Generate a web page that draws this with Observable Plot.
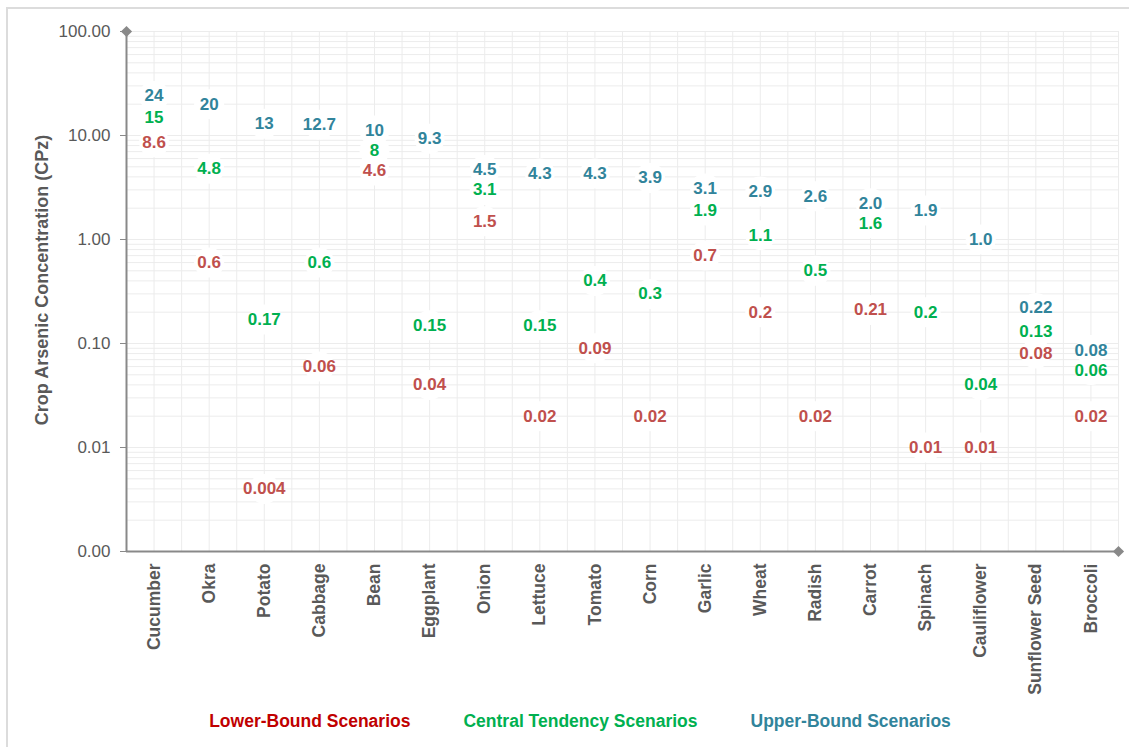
<!DOCTYPE html>
<html>
<head>
<meta charset="utf-8">
<script src="https://cdn.jsdelivr.net/npm/d3@7"></script>
<script src="https://cdn.jsdelivr.net/npm/@observablehq/plot@0.6"></script>
<style>
  html, body { margin: 0; padding: 0; background: #ffffff; }
  body { font-family: "Liberation Sans", Arial, Helvetica, sans-serif; }
  #frame {
    position: relative;
    width: 1129px;
    height: 747px;
    overflow: hidden;
  }
  #frame::before {
    content: "";
    position: absolute;
    left: 6px; top: 7px; right: -4px; bottom: -4px;
    border-left: 2px solid #dcdcdc;
    border-top: 2px solid #dcdcdc;
    pointer-events: none;
  }
  #chart svg { display: block; }
  #ytitle {
    position: absolute;
    left: 42px;
    top: 280px;
    transform: translate(-50%, -50%) rotate(-90deg);
    white-space: nowrap;
    font-size: 18px;
    font-weight: bold;
    color: #595959;
  }
  #legend {
    display: flex;
    justify-content: center;
    gap: 53px;
    padding-left: 31px;
    height: 32px;
    line-height: 32px;
    font-size: 17.5px;
    font-weight: bold;
  }
</style>
</head>
<body>
<div id="frame">
  <div id="chart"></div>
  <div id="ytitle">Crop Arsenic Concentration (CPz)</div>
  <div id="legend"></div>
</div>
<script>
// Crops, in plotting order along the x axis
const categories = ["Cucumber", "Okra", "Potato", "Cabbage", "Bean", "Eggplant", "Onion", "Lettuce", "Tomato",
  "Corn", "Garlic", "Wheat", "Radish", "Carrot", "Spinach", "Cauliflower", "Sunflower Seed", "Broccoli"];

// Crop arsenic concentration (CPz) per scenario, kept as printed
const lowerBound = ["8.6", "0.6", "0.004", "0.06", "4.6", "0.04", "1.5", "0.02", "0.09",
  "0.02", "0.7", "0.2", "0.02", "0.21", "0.01", "0.01", "0.08", "0.02"];
const centralTendency = ["15", "4.8", "0.17", "0.6", "8", "0.15", "3.1", "0.15", "0.4",
  "0.3", "1.9", "1.1", "0.5", "1.6", "0.2", "0.04", "0.13", "0.06"];
const upperBound = ["24", "20", "13", "12.7", "10", "9.3", "4.5", "4.3", "4.3",
  "3.9", "3.1", "2.9", "2.6", "2.0", "1.9", "1.0", "0.22", "0.08"];

const seriesNames = ["Lower-Bound Scenarios", "Central Tendency Scenarios", "Upper-Bound Scenarios"];
const labelColors = ["#C0504D", "#00B050", "#31849B"];
const legendColors = ["#C00000", "#00B050", "#31849B"];

// y axis decades
const yTicks = [0.001, 0.01, 0.1, 1, 10, 100];

const W = 1129, H = 705, MT = 31, MB = 154, ML = 126, MR = 11;
const yOptions = {type: "log", domain: [yTicks[0], yTicks[yTicks.length - 1]]};

const seriesValues = [lowerBound, centralTendency, upperBound];
const rows = [];
seriesValues.forEach((vals, s) => {
  vals.forEach((label, i) => {
    rows.push({i, crop: categories[i], series: seriesNames[s], label, value: +label, color: labelColors[s]});
  });
});

// Keep the three labels of a crop from colliding: spread clusters that sit
// closer than minGap pixels, then map the spread positions back through the scale.
const yScale = Plot.scale({y: {...yOptions, range: [H - MB, MT]}});
const minGap = 20;
d3.group(rows, d => d.i).forEach(group => {
  const items = group.map(d => ({d, py: yScale.apply(d.value)})).sort((a, b) => a.py - b.py);
  let clusters = items.map(it => ({members: [it], center: it.py}));
  let merged = true;
  while (merged) {
    merged = false;
    for (let k = 0; k < clusters.length - 1; k++) {
      const a = clusters[k], b = clusters[k + 1];
      const aBottom = a.center + (a.members.length - 1) * minGap / 2;
      const bTop = b.center - (b.members.length - 1) * minGap / 2;
      if (bTop - aBottom < minGap) {
        const members = a.members.concat(b.members);
        const center = d3.mean(members, m => m.py);
        clusters.splice(k, 2, {members, center});
        merged = true;
        break;
      }
    }
  }
  clusters.forEach(c => {
    c.members.forEach((m, j) => {
      const py = c.center + (j - (c.members.length - 1) / 2) * minGap;
      m.d.labelY = yScale.invert(py);
    });
  });
});

// log minor gridlines (2..9 within each decade)
const minor = [];
yTicks.slice(0, -1).forEach(d => { for (let k = 2; k <= 9; k++) minor.push(d * k); });
// vertical gridlines at each category centre and boundary
const vGrid = d3.range(0, 2 * categories.length + 1).map(k => -0.5 + k / 2);

const axisGray = "#898989";
const textGray = "#595959";
const gridGray = "#ececec";

const chart = Plot.plot({
  width: W,
  height: H,
  marginTop: MT,
  marginBottom: MB,
  marginLeft: ML,
  marginRight: MR,
  style: {fontFamily: "'Liberation Sans', Arial, Helvetica, sans-serif", background: "transparent"},
  x: {type: "linear", domain: [-0.5, categories.length - 0.5], axis: null},
  y: {...yOptions, axis: null},
  marks: [
    Plot.ruleY(minor, {stroke: gridGray, strokeWidth: 1}),
    Plot.ruleY(yTicks, {stroke: gridGray, strokeWidth: 1}),
    Plot.ruleX(vGrid, {stroke: gridGray, strokeWidth: 1}),
    // white patches behind the value labels
    Plot.dot(rows, {x: "i", y: "labelY", r: 15, fill: "white", stroke: "none"}),
    // axis lines with diamond ends
    Plot.ruleX([-0.5], {stroke: axisGray, strokeWidth: 2}),
    Plot.ruleY([yTicks[0]], {stroke: axisGray, strokeWidth: 2}),
    Plot.dot([{x: -0.5, y: yTicks[yTicks.length - 1]}, {x: categories.length - 0.5, y: yTicks[0]}],
      {x: "x", y: "y", symbol: "diamond2", r: 5, fill: axisGray, stroke: "none"}),
    Plot.axisY({
      ticks: yTicks, tickFormat: d => d.toFixed(2), tickSize: 6, tickPadding: 10,
      stroke: axisGray, fill: textGray, fontSize: 17, label: null
    }),
    // rotated category labels
    Plot.text(d3.range(categories.length), {
      x: d => d, frameAnchor: "bottom", text: i => categories[i],
      rotate: -90, textAnchor: "end", lineAnchor: "middle", dy: 12,
      fontSize: 17.5, fontWeight: "bold", fill: textGray
    }),
    // value labels
    Plot.text(rows, {
      x: "i", y: "labelY", text: "label", fill: d => d.color,
      fontSize: 17, fontWeight: "bold", lineAnchor: "middle"
    })
  ]
});
document.getElementById("chart").append(chart);

const legend = document.getElementById("legend");
seriesNames.forEach((name, s) => {
  const span = document.createElement("span");
  span.textContent = name;
  span.style.color = legendColors[s];
  legend.append(span);
});
</script>
</body>
</html>
